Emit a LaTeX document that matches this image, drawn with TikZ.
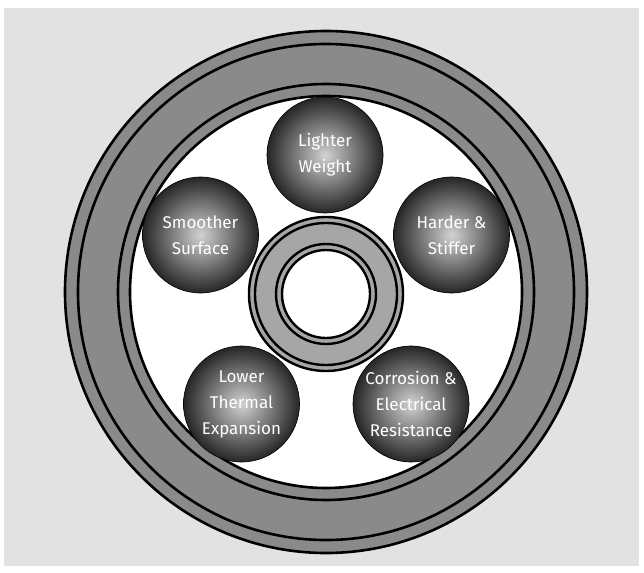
\documentclass[tikz,border=0pt]{standalone}
\usepackage{fontspec}
\newfontfamily\ballfont{Fira Sans}
\definecolor{bgc}{HTML}{E2E2E2}
\definecolor{rimc}{HTML}{8A8A8A}
\definecolor{hubc}{HTML}{A6A6A6}
\definecolor{balllite}{HTML}{D2D2D2}
\definecolor{balldark}{HTML}{262626}

\begin{document}
\begin{tikzpicture}[
    x=1pt, y=-1pt,
    rimline/.style={draw=black, line width=2.6pt},
    hubline/.style={draw=black, line width=2.4pt},
    ball/.style={circle, draw=black, line width=0.6pt, minimum size=116pt, inner sep=0pt,
                 inner color=balllite, outer color=balldark, text=white, align=center,
                 font=\ballfont\fontsize{17}{26}\selectfont},
]

% Canvas
\useasboundingbox (0,0) rectangle (644,572);
\fill[white] (0,0) rectangle (644,572);
\fill[bgc] (4,8) rectangle (639,566);

\coordinate (wheel) at (326,292);
\coordinate (hub) at (326,294);

% Outer rim
\fill[rimc] (wheel) circle[radius=261pt];
\draw[rimline] (wheel) circle[radius=261pt];
\draw[rimline] (wheel) circle[radius=248pt];
\draw[rimline] (wheel) circle[radius=208pt];
\draw[rimline, fill=white] (wheel) circle[radius=196pt];

% Hub
\draw[hubline, fill=hubc] (hub) circle[radius=77pt];
\draw[hubline] (hub) circle[radius=71pt];
\draw[hubline] (hub) circle[radius=50pt];
\draw[hubline, fill=white] (hub) circle[radius=44pt];

% Balls
\node[ball] (light) at (325,155) {Lighter\\Weight};
\node[ball] (smooth) at (200.5,235) {Smoother\\Surface};
\node[ball] (hard) at (451.5,235) {Harder \&\\Stiffer};
\node[ball] (thermal) at (241.5,404) {Lower\\Thermal\\Expansion};
\node[ball] (corrosion) at (411,404) {Corrosion \&\\Electrical\\Resistance};

\end{tikzpicture}
\end{document}
